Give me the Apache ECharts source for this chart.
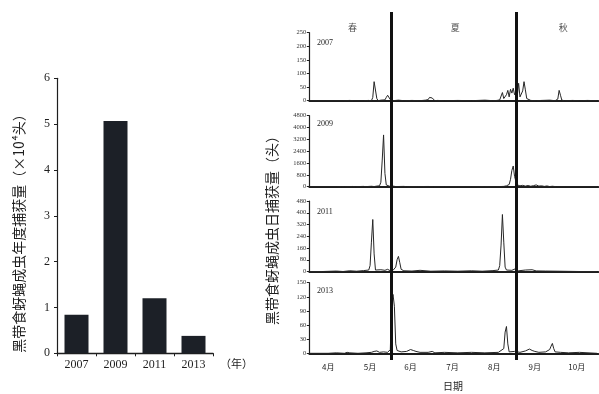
<!DOCTYPE html>
<html>
<head>
<meta charset="utf-8">
<script src="https://cdn.jsdelivr.net/npm/echarts@6/dist/echarts.min.js"></script>
<style>
  html, body { margin: 0; padding: 0; background: #fff; }
  #chart { width: 599px; height: 394px; }
</style>
</head>
<body>
<div id="chart"></div>
<script>
// Annual catch of Episyrphus balteatus adults (×10^4 individuals)
const years = ['2007', '2009', '2011', '2013'];
const annualCatch = [0.84, 5.07, 1.2, 0.38];

// Daily catches, [days since 1 April, individuals]
const catch2007 = [[0,0],[6,0],[7,2],[12,0],[18,0],[19,2],[25,0],[30,1],[33,0],[34,3],[40,0],[44,1],[46,0],[47,12],[48,70],[49,66],[50,8],[51,0],[53,2],[56,3],[57,12],[58,20],[59,16],[60,4],[62,0],[66,2],[70,0],[76,1],[82,0],[86,2],[88,4],[89,12],[90,5],[91,10],[92,3],[93,0],[95,1],[100,0],[110,1],[120,0],[130,2],[136,0],[139,1],[141,3],[142,6],[143,30],[144,8],[145,4],[146,22],[147,38],[148,14],[149,42],[150,28],[151,46],[152,22],[153,30],[154,18],[155,64],[156,14],[157,8],[158,36],[159,70],[160,40],[161,8],[162,2],[164,1],[168,0],[172,1],[178,2],[182,0],[184,6],[185,38],[186,20],[187,2],[189,0],[195,1],[200,0],[206,1],[213,0]];
const catch2009 = [[0,0],[20,0],[24,10],[26,0],[32,15],[34,0],[40,20],[42,5],[46,30],[48,10],[50,40],[52,60],[53,300],[54,1800],[55,3500],[56,900],[57,120],[58,30],[60,10],[62,40],[64,10],[70,20],[72,5],[80,10],[88,15],[92,5],[100,0],[110,5],[120,0],[130,10],[138,0],[144,20],[146,60],[148,150],[149,500],[150,1100],[151,1400],[152,700],[153,350],[154,120],[156,60],[158,90],[160,40],[162,80],[164,30],[166,70],[168,120],[170,40],[172,60],[174,20],[176,50],[178,10],[180,30],[183,0],[190,0],[213,0]];
const catch2011 = [[0,0],[10,0],[20,3],[25,0],[30,5],[35,2],[40,6],[44,10],[45,40],[46,200],[47,354],[48,120],[49,10],[50,5],[53,12],[56,8],[58,15],[60,5],[62,8],[64,30],[65,80],[66,103],[67,60],[68,15],[70,5],[76,3],[82,8],[90,2],[100,4],[110,2],[120,5],[128,2],[136,6],[140,10],[141,40],[142,180],[143,388],[144,200],[145,30],[146,10],[150,8],[153,20],[155,5],[160,10],[165,12],[168,4],[175,3],[185,2],[200,0],[213,0]];
const catch2013 = [[0,0],[14,0],[20,1],[26,0],[28,2],[29,4],[30,1],[36,0],[42,1],[46,2],[48,4],[49,7],[50,5],[52,2],[55,3],[58,2],[60,8],[61,110],[62,125],[63,100],[64,20],[65,6],[68,3],[72,4],[75,8],[76,12],[77,6],[79,4],[82,2],[88,2],[91,4],[93,1],[100,2],[110,1],[120,2],[130,1],[140,2],[144,10],[145,45],[146,57],[147,20],[148,3],[152,4],[156,2],[160,5],[161,8],[163,9],[165,6],[167,4],[170,2],[175,3],[178,8],[179,15],[180,21],[181,10],[182,3],[186,2],[192,1],[200,2],[213,0]];

const dailySeries = [catch2007, catch2009, catch2011, catch2013];
const panelMax = [250, 4800, 480, 150];
const panelStep = [50, 800, 80, 30];

// Month labels at mid-month (days since 1 April)
const monthNames = ['4月', '5月', '6月', '7月', '8月', '9月', '10月'];
const monthMid = [14, 45, 75, 106, 137, 167, 198];
const dayCount = 214;

// Season boundaries (1 June, 1 September) and season names
const seasonBreaks = [61, 153];
const seasonNames = ['春', '夏', '秋'];
const seasonPos = [32, 108, 188];

const serif = '"Liberation Serif", "DejaVu Serif", serif';
const cjk = '"Noto Sans CJK SC", sans-serif';
const ink = '#1e1e1e';

const chart = echarts.init(document.getElementById('chart'), null, { renderer: 'canvas' });

const panelTops = [32.7, 115.7, 201, 282.7];
const panelHeights = [68, 71, 70.5, 70.6];
const panelLeft = 309.3;
const panelWidth = 289;

const grids = [{ left: 57, top: 78.3, width: 156, height: 275 }];
panelTops.forEach((t, i) => grids.push({ left: panelLeft, top: t, width: panelWidth, height: panelHeights[i] }));
grids.push({ left: panelLeft, top: 12, width: panelWidth, height: 348 });

const xAxes = [{
  type: 'category', gridIndex: 0, data: years,
  axisLine: { lineStyle: { color: ink, width: 1.4 } },
  axisTick: { show: true, length: 3, lineStyle: { color: ink } },
  axisLabel: { color: ink, fontFamily: serif, fontSize: 12, margin: 6 }
}];
const yAxes = [{
  type: 'value', gridIndex: 0, min: 0, max: 6, interval: 1,
  axisLine: { show: true, lineStyle: { color: ink, width: 1.2 } },
  axisTick: { show: true, length: 3, lineStyle: { color: ink } },
  axisLabel: { color: ink, fontFamily: serif, fontSize: 12, margin: 7 },
  splitLine: { show: false }
}];

const series = [{
  type: 'bar', xAxisIndex: 0, yAxisIndex: 0, data: annualCatch,
  barWidth: 24, itemStyle: { color: '#1c2027' }
}];

dailySeries.forEach((d, i) => {
  const last = i === dailySeries.length - 1;
  xAxes.push({
    type: 'value', gridIndex: i + 1, min: 0, max: dayCount,
    axisLine: { show: true, onZero: true, lineStyle: { color: ink, width: 1.8 } },
    axisTick: { show: false },
    splitLine: { show: false },
    axisLabel: last ? {
      show: true, customValues: monthMid, color: ink, fontFamily: cjk, fontSize: 8, margin: 10,
      formatter: v => monthNames[monthMid.indexOf(v)]
    } : { show: false }
  });
  yAxes.push({
    type: 'value', gridIndex: i + 1, min: 0, max: panelMax[i], interval: panelStep[i],
    axisLine: { show: true, lineStyle: { color: ink, width: 1.2 } },
    axisTick: { show: true, length: 2.5, lineStyle: { color: ink } },
    axisLabel: { color: '#333', fontFamily: serif, fontSize: 6.5, margin: 3, formatter: v => String(v) },
    splitLine: { show: false }
  });
  series.push({
    type: 'line', xAxisIndex: i + 1, yAxisIndex: i + 1, data: d,
    symbol: 'none', lineStyle: { color: '#262626', width: 1 }
  });
});

// Full-height overlay: season boundaries and season names
xAxes.push({ type: 'value', gridIndex: 5, min: 0, max: dayCount, show: false });
yAxes.push({ type: 'value', gridIndex: 5, min: 0, max: 1, show: false });
series.push({
  type: 'scatter', xAxisIndex: 5, yAxisIndex: 5, symbolSize: 0,
  data: seasonPos.map((p, k) => ({ value: [p, 0.955], name: seasonNames[k] })),
  label: { show: true, position: 'inside', formatter: '{b}', color: ink, fontFamily: cjk, fontSize: 9 },
  markLine: {
    silent: true, symbol: 'none', label: { show: false },
    lineStyle: { color: '#111', width: 3, type: 'solid' },
    data: seasonBreaks.map(b => ({ xAxis: b }))
  }
});

const yearLabelY = [44, 125, 213, 292];
const graphics = years.map((y, i) => ({
  type: 'text', left: 317, top: yearLabelY[i] - 5,
  style: { text: y, fill: ink, font: '8px ' + serif }
}));
graphics.push({
  type: 'text', x: 220, y: 358,
  style: { text: '（年）', fill: ink, font: '11px ' + cjk }
});
graphics.push({
  type: 'text', x: 19, y: 230, rotation: Math.PI / 2,
  style: { text: '黑带食蚜蝇成虫年度捕获量（×10⁴头）', fill: ink, font: '14px ' + cjk, textAlign: 'center', textVerticalAlign: 'middle' }
});
graphics.push({
  type: 'text', x: 272, y: 227, rotation: Math.PI / 2,
  style: { text: '黑带食蚜蝇成虫日捕获量（头）', fill: ink, font: '14px ' + cjk, textAlign: 'center', textVerticalAlign: 'middle' }
});
graphics.push({
  type: 'text', x: 453, y: 386,
  style: { text: '日期', fill: ink, font: '10px ' + cjk, textAlign: 'center', textVerticalAlign: 'middle' }
});

chart.setOption({
  animation: false,
  backgroundColor: '#fff',
  grid: grids,
  xAxis: xAxes,
  yAxis: yAxes,
  series: series,
  graphic: graphics
});
</script>
</body>
</html>
